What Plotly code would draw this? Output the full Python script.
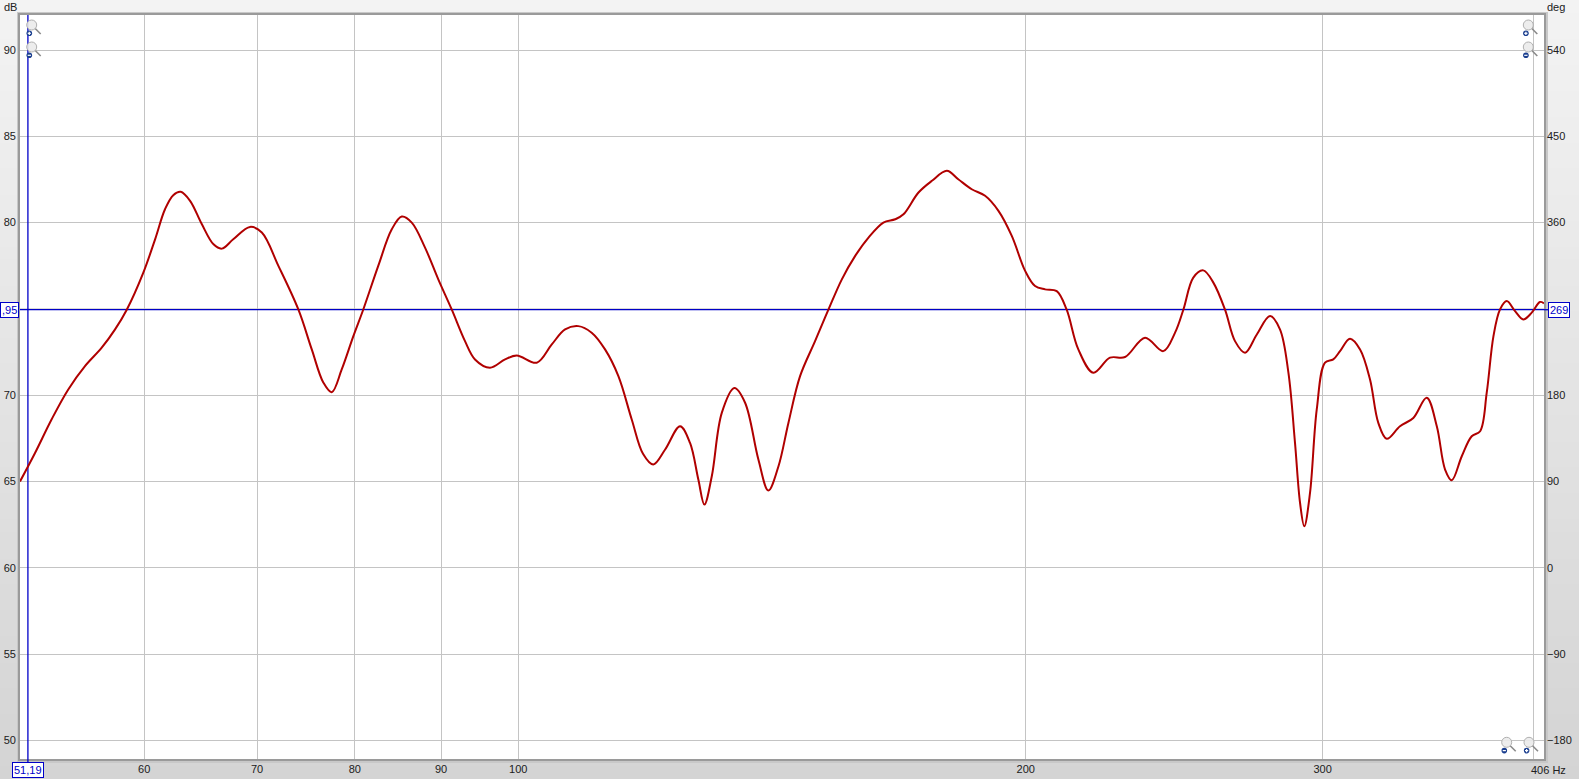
import math
import plotly.graph_objects as go

# ---------------- data ----------------
freq_hz = [50.64, 51.69, 52.87, 54.09, 55.34, 56.62, 57.66, 58.59, 59.93, 60.90,
           61.73, 62.43, 63.07, 63.88, 64.92, 65.96, 66.71, 67.76, 69.33, 70.46,
           72.07, 74.07, 75.43, 76.64, 77.52, 78.58, 79.84, 80.92, 82.60, 84.14,
           85.30, 86.47, 88.05, 89.66, 91.33, 92.99, 94.27, 96.22, 98.22, 99.80,
           102.56, 104.69, 106.61, 108.55, 110.55, 112.59, 114.66, 116.77, 118.58, 120.26,
           122.22, 124.74, 126.45, 127.89, 128.95, 130.26, 132.05, 134.35, 136.32, 138.82,
           140.72, 142.68, 144.63, 146.95, 149.99, 152.75, 155.58, 158.44, 161.35, 164.66,
           167.34, 169.24, 172.75, 175.96, 179.57, 182.39, 185.78, 189.20, 192.68, 196.22,
           199.83, 202.56, 205.35, 208.65, 211.50, 214.89, 219.34, 224.39, 229.04, 235.39,
           241.32, 245.24, 248.03, 251.43, 254.87, 258.41, 262.56, 266.16, 269.86, 274.16,
           279.20, 283.02, 286.30, 288.89, 290.89, 292.57, 294.87, 297.60, 300.98, 304.39,
           307.21, 311.41, 315.74, 320.06, 323.70, 327.45, 333.43, 339.56, 345.81, 350.62,
           354.60, 357.88, 362.78, 367.75, 372.00, 375.36, 378.83, 382.25, 385.79, 390.17,
           394.59, 399.16, 403.65, 405.90]
spl_db = [65.00, 66.65, 68.59, 70.33, 71.68, 72.75, 73.81, 74.95, 77.10, 79.03,
          80.77, 81.59, 81.78, 81.26, 79.90, 78.74, 78.49, 79.03, 79.75, 79.42,
          77.49, 74.95, 72.65, 70.72, 70.17, 71.49, 73.42, 74.95, 77.49, 79.61,
          80.35, 80.00, 78.55, 76.71, 74.95, 73.13, 72.07, 71.59, 72.07, 72.30,
          71.88, 72.94, 73.81, 74.00, 73.62, 72.65, 71.10, 68.59, 66.60, 65.98,
          66.85, 68.20, 67.23, 65.11, 63.66, 65.30, 68.97, 70.41, 69.56, 66.27,
          64.47, 65.88, 68.39, 71.10, 73.13, 74.95, 76.71, 78.07, 79.13, 80.00,
          80.19, 80.48, 81.74, 82.42, 83.00, 82.51, 81.93, 81.55, 80.68, 79.23,
          77.20, 76.32, 76.13, 76.03, 74.95, 72.65, 71.30, 72.17, 72.21, 73.33,
          72.55, 73.62, 74.95, 76.81, 77.23, 76.52, 74.95, 73.13, 72.46, 73.50,
          74.58, 73.81, 71.30, 67.23, 63.75, 62.40, 64.33, 69.17, 71.88, 72.07,
          72.55, 73.27, 72.65, 70.91, 68.39, 67.47, 68.20, 68.68, 69.85, 68.20,
          65.69, 65.07, 66.46, 67.62, 67.91, 70.14, 73.42, 74.97, 75.45, 74.87,
          74.39, 74.78, 75.40, 75.32]

x_tick_vals = [60, 70, 80, 90, 100, 200, 300, 400]
x_tick_text = ["60", "70", "80", "90", "100", "200", "300", ""]
db_ticks = [50, 55, 60, 65, 70, 80, 85, 90]          # 75 is hidden by the cursor box
db_grid = [50, 55, 60, 65, 70, 75, 80, 85, 90]
deg_ticks = [-180, -90, 0, 90, 180, 360, 450, 540]   # 270 is hidden by the cursor box

cursor_hz = 51.19
cursor_db = 74.95
cursor_db_label = ",95"
cursor_deg = 269
f_min, f_max = 50.64, 405.9
db_min, db_max = 48.916, 92.028

# ---------------- geometry ----------------
W, H = 1579, 779
ML, MR, MT, MB = 20, 35, 15, 20
PW, PH = W - ML - MR, H - MT - MB


def px(x):
    return (x - ML) / PW


def py(y):
    return (H - MB - y) / PH


def deg_of(db):
    return 540 + (db - 90) * 18


shapes = []
# background vertical gradient
nb = 60
for i in range(nb):
    t = i / (nb - 1)
    g = int(round(243 - t * (243 - 212)))
    shapes.append(dict(type="rect", xref="paper", yref="paper", layer="below",
                       x0=px(-2), x1=px(W + 2), y0=py(H * (i + 1) / nb + 1), y1=py(H * i / nb),
                       line=dict(width=0), fillcolor=f"rgb({g},{g},{g})"))
# plot shadow / bevel
shapes.append(dict(type="rect", xref="paper", yref="paper", layer="below",
                   x0=px(ML - 3), x1=px(W - MR + 4), y0=py(H - MB + 4), y1=py(MT - 3),
                   line=dict(width=0), fillcolor="#c8c8c8"))
shapes.append(dict(type="rect", xref="paper", yref="paper", layer="below",
                   x0=px(ML - 2), x1=px(W - MR + 2), y0=py(H - MB + 2), y1=py(MT - 2),
                   line=dict(width=0), fillcolor="#9a9a9a"))
shapes.append(dict(type="rect", xref="paper", yref="paper", layer="below",
                   x0=0, x1=1, y0=0, y1=1, line=dict(width=0), fillcolor="white"))

# cursor extensions outside plot
shapes.append(dict(type="line", xref="paper", yref="y", layer="above",
                   x0=px(W - MR), x1=px(W - MR + 5), y0=cursor_db, y1=cursor_db,
                   line=dict(color="#0000c8", width=1.3)))
shapes.append(dict(type="line", xref="x", yref="paper", layer="above",
                   x0=cursor_hz, x1=cursor_hz, y0=py(H - MB + 4), y1=0,
                   line=dict(color="#0000c8", width=1.3)))


def magnifier(cx, cy, plus):
    out = []
    out.append(dict(type="line", xref="paper", yref="paper", layer="above",
                    x0=px(cx + 3.5), x1=px(cx + 9), y0=py(cy + 3.5), y1=py(cy + 9),
                    line=dict(color="#8a8a8a", width=1.6)))
    out.append(dict(type="circle", xref="paper", yref="paper", layer="above",
                    x0=px(cx - 5), x1=px(cx + 5), y0=py(cy + 5), y1=py(cy - 5),
                    line=dict(color="#b0b0b0", width=1), fillcolor="rgba(235,235,235,0.9)"))
    bx, by = cx - 2.4, cy + 8.3
    out.append(dict(type="circle", xref="paper", yref="paper", layer="above",
                    x0=px(bx - 2.8), x1=px(bx + 2.8), y0=py(by + 2.8), y1=py(by - 2.8),
                    line=dict(width=0), fillcolor="#1b3f8f"))
    out.append(dict(type="line", xref="paper", yref="paper", layer="above",
                    x0=px(bx - 1.6), x1=px(bx + 1.6), y0=py(by), y1=py(by),
                    line=dict(color="white", width=1.2)))
    if plus:
        out.append(dict(type="line", xref="paper", yref="paper", layer="above",
                        x0=px(bx), x1=px(bx), y0=py(by - 1.6), y1=py(by + 1.6),
                        line=dict(color="white", width=1.2)))
    return out


shapes += magnifier(31.7, 25, True)
shapes += magnifier(31.7, 47, False)
shapes += magnifier(1528.3, 25, True)
shapes += magnifier(1528.3, 47, False)
shapes += magnifier(1506.7, 742.3, False)
shapes += magnifier(1529, 742.3, True)

# hidden-label gridlines (75 dB)
for g in db_grid:
    if g not in db_ticks:
        shapes.append(dict(type="line", xref="paper", yref="y", layer="below",
                           x0=0, x1=1, y0=g, y1=g, line=dict(color="#c4c4c4", width=1)))

font_main = "Liberation Sans, Arial, sans-serif"
fig = go.Figure()
# phase axis dummy
fig.add_trace(go.Scatter(x=[f_min], y=[None], yaxis="y2", showlegend=False, hoverinfo="skip"))
# cursor lines
fig.add_trace(go.Scatter(x=[f_min, f_max], y=[cursor_db, cursor_db], mode="lines",
                         line=dict(color="#0000c8", width=1.3), showlegend=False, hoverinfo="skip"))
fig.add_trace(go.Scatter(x=[cursor_hz, cursor_hz], y=[db_min, db_max], mode="lines",
                         line=dict(color="#0000c8", width=1.3), showlegend=False, hoverinfo="skip"))
# SPL curve
fig.add_trace(go.Scatter(x=freq_hz, y=spl_db, mode="lines",
                         line=dict(color="#b00000", width=2, shape="spline", smoothing=1.0),
                         showlegend=False))

ann = []
lbl = dict(font=dict(family=font_main, size=11, color="#0000c8"), bgcolor="white",
           bordercolor="#0000c8", borderwidth=1, borderpad=1, showarrow=False)
ann.append(dict(text="51,19", xref="x", yref="paper", x=math.log10(cursor_hz), y=py(770),
                xanchor="center", yanchor="middle", **lbl))
ann.append(dict(text=cursor_db_label, xref="paper", yref="y", x=px(19), y=cursor_db,
                xanchor="right", yanchor="middle", **lbl))
ann.append(dict(text=str(cursor_deg), xref="paper", yref="y", x=px(W - MR + 4), y=cursor_db,
                xanchor="left", yanchor="middle", **lbl))
txt = dict(font=dict(family=font_main, size=11, color="#202020"), showarrow=False)
ann.append(dict(text="dB", xref="paper", yref="paper", x=px(2), y=py(7), xanchor="left", yanchor="middle", **txt))
ann.append(dict(text="deg", xref="paper", yref="paper", x=px(W - MR + 1), y=py(7), xanchor="left", yanchor="middle", **txt))
ann.append(dict(text="406 Hz", xref="paper", yref="paper", x=px(1549), y=py(770), xanchor="center", yanchor="middle", **txt))

fig.update_layout(
    template="none",
    width=W, height=H,
    margin=dict(l=ML, r=MR, t=MT, b=MB, pad=0),
    paper_bgcolor="#e4e4e4",
    plot_bgcolor="white",
    showlegend=False,
    font=dict(family=font_main, size=11, color="#202020"),
    shapes=shapes,
    annotations=ann,
    xaxis=dict(type="log", range=[math.log10(f_min), math.log10(f_max)],
               tickvals=x_tick_vals, ticktext=x_tick_text, showgrid=True,
               gridcolor="#c4c4c4", gridwidth=1, zeroline=False, showline=False,
               ticks="", automargin=False, ticklabelstandoff=2,
               tickfont=dict(family=font_main, size=11, color="#202020")),
    yaxis=dict(range=[db_min, db_max], tickvals=db_ticks, showgrid=True,
               gridcolor="#c4c4c4", gridwidth=1, zeroline=False, showline=False,
               ticks="", automargin=False, ticklabelstandoff=3,
               tickfont=dict(family=font_main, size=11, color="#202020")),
    yaxis2=dict(range=[deg_of(db_min), deg_of(db_max)], tickvals=deg_ticks, overlaying="y",
                side="right", showgrid=False, zeroline=False, showline=False, ticks="",
                automargin=False, ticklabelstandoff=2,
                tickfont=dict(family=font_main, size=11, color="#202020")),
)

fig.write_html("out.html", config={"displayModeBar": False},
               post_script="document.body.style.margin='0';document.body.style.overflow='hidden';")
